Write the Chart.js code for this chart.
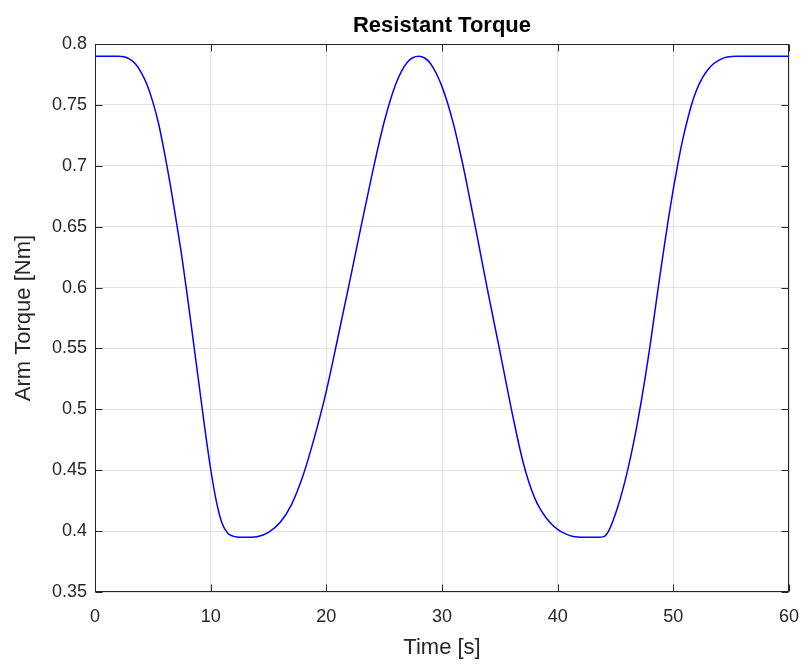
<!DOCTYPE html>
<html>
<head>
<meta charset="utf-8">
<script src="https://cdn.jsdelivr.net/npm/chart.js@4/dist/chart.umd.min.js"></script>
<style>
html,body{margin:0;padding:0;background:#ffffff;}
#wrap{width:805px;height:664px;position:relative;}
</style>
</head>
<body>
<div id="wrap"><canvas id="c" width="805" height="664"></canvas></div>
<script>
const chartTitle = 'Resistant Torque';
const xTitle = 'Time [s]';
const yTitle = 'Arm Torque [Nm]';

const time = [
  0, 1, 2, 2.5, 3.0, 3.5, 4.0, 4.5, 5.0, 5.5,
  6.0, 6.5, 7.0, 7.5, 8.0, 8.5, 9.0, 9.5, 10.0, 10.5,
  11.0, 11.5, 12.0, 12.5, 13.5, 14.0, 15, 16, 17, 18,
  19, 20, 21, 22, 23, 24, 25, 26, 27, 28,
  28.5, 29, 29.5, 30, 30.5, 31, 31.5, 32, 32.5, 33,
  34, 35, 36, 36.5, 37, 37.5, 38, 38.5, 39, 39.5,
  40, 40.5, 41, 41.5, 42, 43.5, 44.0, 44.4,
  44.8, 45.2, 45.6, 46.0, 46.4, 46.8, 47.2, 47.6, 48.0, 48.4,
  48.8, 49.2, 49.6, 50.0, 50.4, 50.8, 51.2, 51.6, 52.0, 52.5,
  53.0, 53.5, 54.0, 54.5, 55.0, 55.5, 58, 60
];
const torque = [
  0.790, 0.790, 0.790, 0.7895, 0.7875, 0.7835, 0.7765, 0.7665, 0.7525, 0.7345,
  0.711, 0.685, 0.656, 0.626, 0.592, 0.556, 0.520, 0.484, 0.451, 0.424,
  0.406, 0.398, 0.3957, 0.395, 0.395, 0.3953, 0.399, 0.407, 0.422, 0.446,
  0.478, 0.515, 0.559, 0.604, 0.650, 0.695, 0.736, 0.767, 0.785, 0.790,
  0.7885, 0.784, 0.776, 0.765, 0.751, 0.734, 0.714, 0.692, 0.668, 0.644,
  0.595, 0.548, 0.500, 0.4775, 0.457, 0.4405, 0.4275, 0.418, 0.411, 0.4055,
  0.4015, 0.3985, 0.3965, 0.3953, 0.395, 0.395, 0.3955, 0.400,
  0.409, 0.420, 0.433, 0.448, 0.465, 0.484, 0.505, 0.528, 0.553, 0.580,
  0.607, 0.633, 0.658, 0.681, 0.702, 0.721, 0.737, 0.751, 0.762, 0.772,
  0.779, 0.784, 0.787, 0.789, 0.7897, 0.790, 0.790, 0.790
];

const xTicks = [0, 10, 20, 30, 40, 50, 60];
const yTicks = [0.35, 0.4, 0.45, 0.5, 0.55, 0.6, 0.65, 0.7, 0.75, 0.8];

const FONT = '"Liberation Sans", Arial, Helvetica, sans-serif';
const AXIS_COLOR = '#262626';

const points = time.map((t, i) => ({ x: t, y: torque[i] }));

const framePlugin = {
  id: 'frame',
  afterDraw(chart) {
    const { ctx, chartArea: a, scales: { x, y } } = chart;
    ctx.save();
    ctx.strokeStyle = AXIS_COLOR;
    ctx.lineWidth = 1;
    const L = Math.round(a.left) + 0.5, R = Math.round(a.right) - 0.5;
    const T = Math.round(a.top) + 0.5, B = Math.round(a.bottom) - 0.5;
    ctx.strokeRect(L, T, R - L, B - T);
    const len = 7;
    ctx.beginPath();
    x.ticks.forEach(t => {
      const px = Math.round(x.getPixelForValue(t.value)) + 0.5;
      ctx.moveTo(px, B); ctx.lineTo(px, B - len);
      ctx.moveTo(px, T); ctx.lineTo(px, T + len);
    });
    y.ticks.forEach(t => {
      const py = Math.round(y.getPixelForValue(t.value)) + 0.5;
      ctx.moveTo(L, py); ctx.lineTo(L + len, py);
      ctx.moveTo(R, py); ctx.lineTo(R - len, py);
    });
    ctx.stroke();
    ctx.fillStyle = '#000000';
    ctx.font = 'bold 22px ' + FONT;
    ctx.textAlign = 'center';
    ctx.textBaseline = 'alphabetic';
    ctx.fillText(chartTitle, (a.left + a.right) / 2, 32);
    ctx.restore();
  }
};

new Chart(document.getElementById('c'), {
  type: 'line',
  data: {
    datasets: [{
      label: yTitle,
      data: points,
      borderColor: '#0000ff',
      borderWidth: 1.5,
      pointRadius: 0,
      fill: false,
      cubicInterpolationMode: 'monotone'
    }]
  },
  options: {
    responsive: false,
    animation: false,
    devicePixelRatio: 1,
    layout: { padding: { top: 44, right: 16, bottom: 0, left: 0 } },
    plugins: {
      legend: { display: false },
      tooltip: { enabled: false },
      title: { display: false }
    },
    scales: {
      x: {
        type: 'linear',
        min: 0, max: 60,
        afterBuildTicks: s => { s.ticks = xTicks.map(v => ({ value: v })); },
        afterFit: s => { s.height = 72; s.paddingLeft = 0; s.paddingRight = 0; },
        ticks: {
          color: AXIS_COLOR,
          font: { family: FONT, size: 18 },
          padding: 14,
          maxRotation: 0,
          callback: v => String(v)
        },
        grid: { color: '#e2e2e2', lineWidth: 1, drawTicks: false },
        border: { display: false },
        title: {
          display: true,
          text: xTitle,
          color: AXIS_COLOR,
          font: { family: FONT, size: 22 },
          padding: { top: 0, bottom: 3 }
        }
      },
      y: {
        type: 'linear',
        min: 0.35, max: 0.8,
        afterBuildTicks: s => { s.ticks = yTicks.map(v => ({ value: v })); },
        afterFit: s => { s.width = 95; s.paddingTop = 0; s.paddingBottom = 0; },
        ticks: {
          color: AXIS_COLOR,
          font: { family: FONT, size: 18 },
          padding: 8,
          callback: v => String(parseFloat(Number(v).toFixed(2)))
        },
        grid: { color: '#e2e2e2', lineWidth: 1, drawTicks: false },
        border: { display: false },
        title: {
          display: true,
          text: yTitle,
          color: AXIS_COLOR,
          font: { family: FONT, size: 22 },
          padding: { top: 11, bottom: 0 }
        }
      }
    }
  },
  plugins: [framePlugin]
});
</script>
</body>
</html>
